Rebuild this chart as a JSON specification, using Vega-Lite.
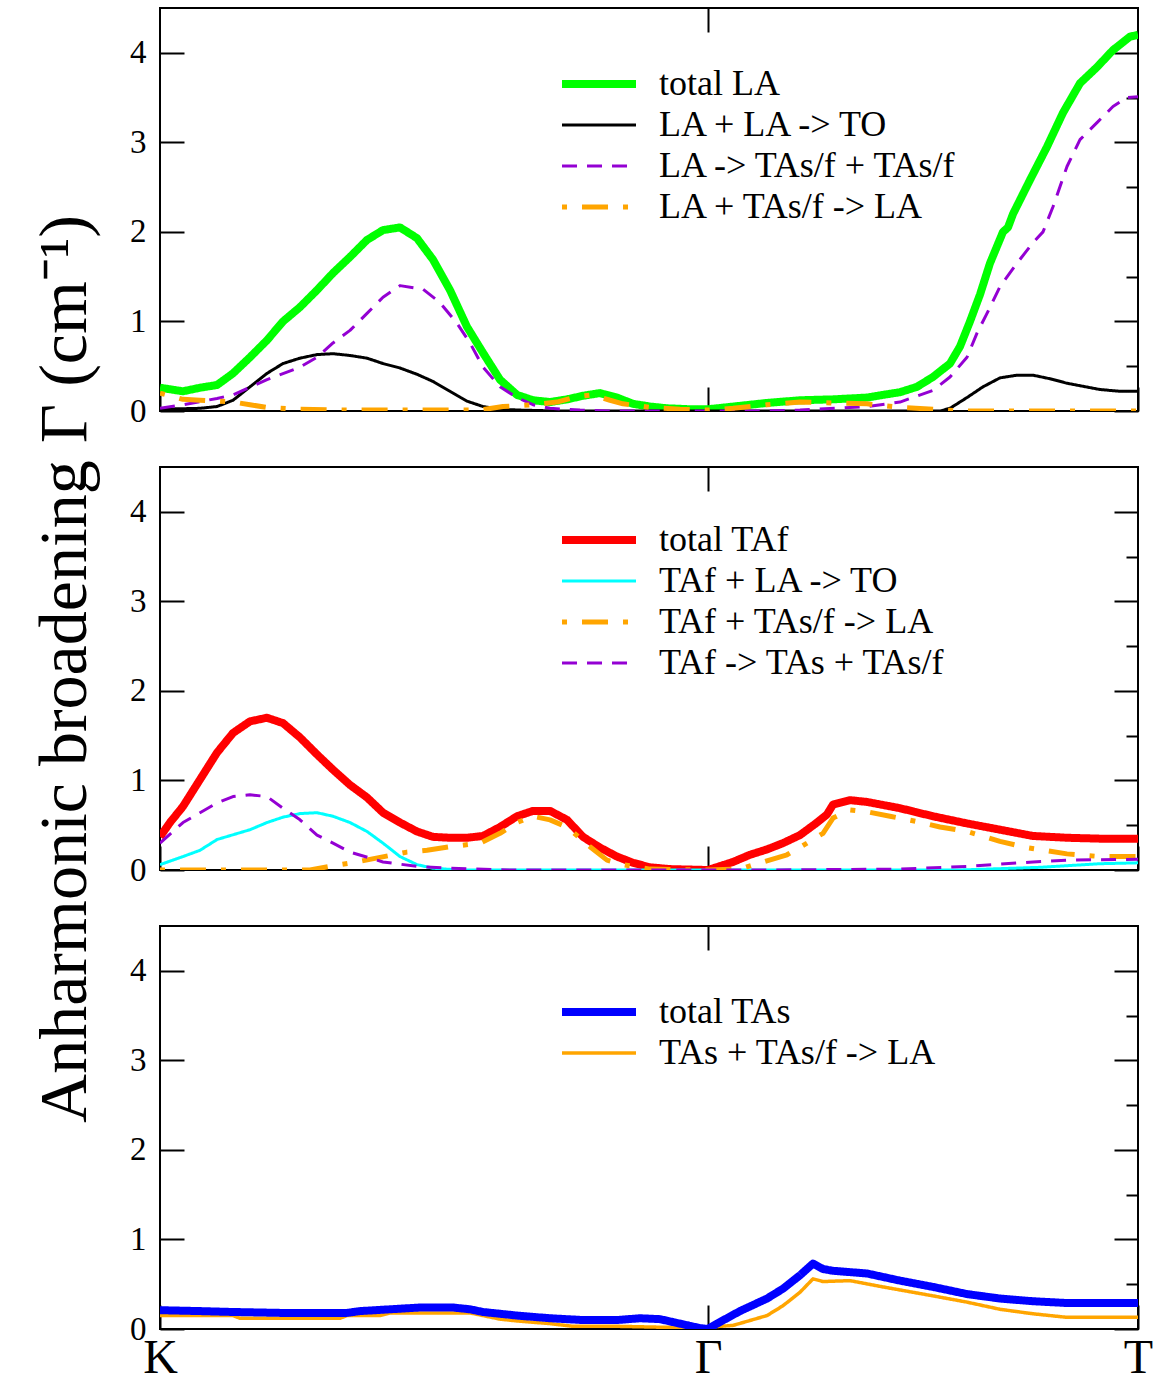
{
  "$schema": "https://vega.github.io/schema/vega-lite/v6.json",
  "background": "white",
  "padding": {"left": 30, "top": 6, "right": 0, "bottom": 0},
  "spacing": 56,
  "bounds": "flush",
  "config": {
    "font": "Liberation Serif",
    "view": {"stroke": "#000000", "strokeWidth": 2},
    "axis": {"grid": false, "domain": false, "tickColor": "#000000", "tickWidth": 2, "labelColor": "#000000", "labelFont": "Liberation Serif", "titleFont": "Liberation Serif", "titleColor": "#000000", "titleFontWeight": "normal"},
    "legend": {"orient": "none", "symbolType": "M-3,0H3", "symbolSize": 608, "labelFont": "Liberation Serif", "labelFontSize": 36, "labelColor": "#000000", "labelLimit": 800, "padding": 0, "rowPadding": 5, "labelOffset": 42}
  },
  "resolve": {"scale": {"color": "independent", "strokeDash": "independent", "strokeWidth": "independent"}, "legend": {"color": "independent", "strokeDash": "independent", "strokeWidth": "independent"}},
  "datasets": {
    "la": [
      {"s":"total LA","x":0,"y":0.26},{"s":"total LA","x":23,"y":0.22},{"s":"total LA","x":40,"y":0.26},{"s":"total LA","x":57,"y":0.29},{"s":"total LA","x":73,"y":0.42},{"s":"total LA","x":90,"y":0.6},{"s":"total LA","x":107,"y":0.79},{"s":"total LA","x":123,"y":1.0},{"s":"total LA","x":140,"y":1.16},{"s":"total LA","x":157,"y":1.35},{"s":"total LA","x":173,"y":1.54},{"s":"total LA","x":190,"y":1.72},{"s":"total LA","x":207,"y":1.91},{"s":"total LA","x":223,"y":2.02},{"s":"total LA","x":240,"y":2.05},{"s":"total LA","x":257,"y":1.93},{"s":"total LA","x":273,"y":1.69},{"s":"total LA","x":290,"y":1.35},{"s":"total LA","x":307,"y":0.94},{"s":"total LA","x":323,"y":0.65},{"s":"total LA","x":340,"y":0.35},{"s":"total LA","x":357,"y":0.18},{"s":"total LA","x":373,"y":0.12},{"s":"total LA","x":390,"y":0.1},{"s":"total LA","x":407,"y":0.13},{"s":"total LA","x":423,"y":0.17},{"s":"total LA","x":440,"y":0.2},{"s":"total LA","x":457,"y":0.15},{"s":"total LA","x":473,"y":0.08},{"s":"total LA","x":490,"y":0.05},{"s":"total LA","x":507,"y":0.03},{"s":"total LA","x":530,"y":0.02},{"s":"total LA","x":548,"y":0.02},{"s":"total LA","x":557,"y":0.03},{"s":"total LA","x":607,"y":0.09},{"s":"total LA","x":640,"y":0.12},{"s":"total LA","x":673,"y":0.13},{"s":"total LA","x":707,"y":0.15},{"s":"total LA","x":723,"y":0.18},{"s":"total LA","x":740,"y":0.21},{"s":"total LA","x":757,"y":0.27},{"s":"total LA","x":773,"y":0.38},{"s":"total LA","x":790,"y":0.53},{"s":"total LA","x":800,"y":0.72},{"s":"total LA","x":810,"y":1.0},{"s":"total LA","x":820,"y":1.3},{"s":"total LA","x":830,"y":1.65},{"s":"total LA","x":843,"y":2.0},{"s":"total LA","x":848,"y":2.05},{"s":"total LA","x":853,"y":2.2},{"s":"total LA","x":870,"y":2.58},{"s":"total LA","x":887,"y":2.95},{"s":"total LA","x":903,"y":3.33},{"s":"total LA","x":920,"y":3.66},{"s":"total LA","x":937,"y":3.84},{"s":"total LA","x":953,"y":4.03},{"s":"total LA","x":970,"y":4.18},{"s":"total LA","x":978,"y":4.2},
      {"s":"LA + LA -> TO","x":0,"y":0.02},{"s":"LA + LA -> TO","x":40,"y":0.03},{"s":"LA + LA -> TO","x":57,"y":0.05},{"s":"LA + LA -> TO","x":73,"y":0.12},{"s":"LA + LA -> TO","x":90,"y":0.27},{"s":"LA + LA -> TO","x":107,"y":0.42},{"s":"LA + LA -> TO","x":123,"y":0.53},{"s":"LA + LA -> TO","x":140,"y":0.59},{"s":"LA + LA -> TO","x":157,"y":0.63},{"s":"LA + LA -> TO","x":173,"y":0.64},{"s":"LA + LA -> TO","x":190,"y":0.62},{"s":"LA + LA -> TO","x":207,"y":0.59},{"s":"LA + LA -> TO","x":223,"y":0.53},{"s":"LA + LA -> TO","x":240,"y":0.48},{"s":"LA + LA -> TO","x":257,"y":0.41},{"s":"LA + LA -> TO","x":273,"y":0.33},{"s":"LA + LA -> TO","x":290,"y":0.22},{"s":"LA + LA -> TO","x":307,"y":0.11},{"s":"LA + LA -> TO","x":323,"y":0.05},{"s":"LA + LA -> TO","x":340,"y":0.02},{"s":"LA + LA -> TO","x":360,"y":0.01},{"s":"LA + LA -> TO","x":400,"y":0.0},{"s":"LA + LA -> TO","x":548,"y":0.0},{"s":"LA + LA -> TO","x":780,"y":0.0},{"s":"LA + LA -> TO","x":790,"y":0.03},{"s":"LA + LA -> TO","x":807,"y":0.15},{"s":"LA + LA -> TO","x":823,"y":0.27},{"s":"LA + LA -> TO","x":840,"y":0.37},{"s":"LA + LA -> TO","x":857,"y":0.4},{"s":"LA + LA -> TO","x":873,"y":0.4},{"s":"LA + LA -> TO","x":890,"y":0.36},{"s":"LA + LA -> TO","x":907,"y":0.31},{"s":"LA + LA -> TO","x":940,"y":0.24},{"s":"LA + LA -> TO","x":960,"y":0.22},{"s":"LA + LA -> TO","x":978,"y":0.22},
      {"s":"LA -> TAs/f + TAs/f","x":0,"y":0.03},{"s":"LA -> TAs/f + TAs/f","x":23,"y":0.07},{"s":"LA -> TAs/f + TAs/f","x":57,"y":0.14},{"s":"LA -> TAs/f + TAs/f","x":73,"y":0.18},{"s":"LA -> TAs/f + TAs/f","x":107,"y":0.35},{"s":"LA -> TAs/f + TAs/f","x":140,"y":0.49},{"s":"LA -> TAs/f + TAs/f","x":157,"y":0.6},{"s":"LA -> TAs/f + TAs/f","x":173,"y":0.76},{"s":"LA -> TAs/f + TAs/f","x":190,"y":0.9},{"s":"LA -> TAs/f + TAs/f","x":207,"y":1.09},{"s":"LA -> TAs/f + TAs/f","x":223,"y":1.27},{"s":"LA -> TAs/f + TAs/f","x":240,"y":1.4},{"s":"LA -> TAs/f + TAs/f","x":263,"y":1.36},{"s":"LA -> TAs/f + TAs/f","x":280,"y":1.21},{"s":"LA -> TAs/f + TAs/f","x":297,"y":0.98},{"s":"LA -> TAs/f + TAs/f","x":310,"y":0.76},{"s":"LA -> TAs/f + TAs/f","x":323,"y":0.49},{"s":"LA -> TAs/f + TAs/f","x":340,"y":0.27},{"s":"LA -> TAs/f + TAs/f","x":357,"y":0.15},{"s":"LA -> TAs/f + TAs/f","x":373,"y":0.07},{"s":"LA -> TAs/f + TAs/f","x":390,"y":0.03},{"s":"LA -> TAs/f + TAs/f","x":420,"y":0.01},{"s":"LA -> TAs/f + TAs/f","x":450,"y":0.0},{"s":"LA -> TAs/f + TAs/f","x":600,"y":0.0},{"s":"LA -> TAs/f + TAs/f","x":640,"y":0.01},{"s":"LA -> TAs/f + TAs/f","x":707,"y":0.05},{"s":"LA -> TAs/f + TAs/f","x":740,"y":0.1},{"s":"LA -> TAs/f + TAs/f","x":773,"y":0.23},{"s":"LA -> TAs/f + TAs/f","x":790,"y":0.38},{"s":"LA -> TAs/f + TAs/f","x":807,"y":0.6},{"s":"LA -> TAs/f + TAs/f","x":817,"y":0.87},{"s":"LA -> TAs/f + TAs/f","x":827,"y":1.09},{"s":"LA -> TAs/f + TAs/f","x":840,"y":1.39},{"s":"LA -> TAs/f + TAs/f","x":857,"y":1.65},{"s":"LA -> TAs/f + TAs/f","x":873,"y":1.88},{"s":"LA -> TAs/f + TAs/f","x":883,"y":2.0},{"s":"LA -> TAs/f + TAs/f","x":893,"y":2.28},{"s":"LA -> TAs/f + TAs/f","x":907,"y":2.73},{"s":"LA -> TAs/f + TAs/f","x":920,"y":3.03},{"s":"LA -> TAs/f + TAs/f","x":937,"y":3.22},{"s":"LA -> TAs/f + TAs/f","x":953,"y":3.4},{"s":"LA -> TAs/f + TAs/f","x":967,"y":3.5},{"s":"LA -> TAs/f + TAs/f","x":978,"y":3.51},
      {"s":"LA + TAs/f -> LA","x":0,"y":0.2},{"s":"LA + TAs/f -> LA","x":23,"y":0.13},{"s":"LA + TAs/f -> LA","x":40,"y":0.12},{"s":"LA + TAs/f -> LA","x":73,"y":0.1},{"s":"LA + TAs/f -> LA","x":90,"y":0.07},{"s":"LA + TAs/f -> LA","x":107,"y":0.04},{"s":"LA + TAs/f -> LA","x":140,"y":0.02},{"s":"LA + TAs/f -> LA","x":190,"y":0.01},{"s":"LA + TAs/f -> LA","x":320,"y":0.01},{"s":"LA + TAs/f -> LA","x":343,"y":0.05},{"s":"LA + TAs/f -> LA","x":373,"y":0.07},{"s":"LA + TAs/f -> LA","x":397,"y":0.1},{"s":"LA + TAs/f -> LA","x":417,"y":0.16},{"s":"LA + TAs/f -> LA","x":433,"y":0.18},{"s":"LA + TAs/f -> LA","x":450,"y":0.12},{"s":"LA + TAs/f -> LA","x":463,"y":0.08},{"s":"LA + TAs/f -> LA","x":490,"y":0.04},{"s":"LA + TAs/f -> LA","x":520,"y":0.02},{"s":"LA + TAs/f -> LA","x":548,"y":0.01},{"s":"LA + TAs/f -> LA","x":573,"y":0.03},{"s":"LA + TAs/f -> LA","x":607,"y":0.07},{"s":"LA + TAs/f -> LA","x":640,"y":0.1},{"s":"LA + TAs/f -> LA","x":673,"y":0.09},{"s":"LA + TAs/f -> LA","x":707,"y":0.08},{"s":"LA + TAs/f -> LA","x":740,"y":0.04},{"s":"LA + TAs/f -> LA","x":773,"y":0.02},{"s":"LA + TAs/f -> LA","x":800,"y":0.0},{"s":"LA + TAs/f -> LA","x":978,"y":0.0}
    ],
    "taf": [
      {"s":"total TAf","x":0,"y":0.37},{"s":"total TAf","x":10,"y":0.53},{"s":"total TAf","x":23,"y":0.71},{"s":"total TAf","x":40,"y":1.01},{"s":"total TAf","x":57,"y":1.31},{"s":"total TAf","x":73,"y":1.53},{"s":"total TAf","x":90,"y":1.66},{"s":"total TAf","x":107,"y":1.7},{"s":"total TAf","x":123,"y":1.64},{"s":"total TAf","x":140,"y":1.48},{"s":"total TAf","x":157,"y":1.29},{"s":"total TAf","x":173,"y":1.12},{"s":"total TAf","x":190,"y":0.95},{"s":"total TAf","x":207,"y":0.81},{"s":"total TAf","x":223,"y":0.64},{"s":"total TAf","x":240,"y":0.53},{"s":"total TAf","x":257,"y":0.43},{"s":"total TAf","x":273,"y":0.37},{"s":"total TAf","x":290,"y":0.36},{"s":"total TAf","x":307,"y":0.36},{"s":"total TAf","x":323,"y":0.38},{"s":"total TAf","x":340,"y":0.48},{"s":"total TAf","x":357,"y":0.6},{"s":"total TAf","x":373,"y":0.66},{"s":"total TAf","x":390,"y":0.66},{"s":"total TAf","x":407,"y":0.56},{"s":"total TAf","x":423,"y":0.37},{"s":"total TAf","x":440,"y":0.25},{"s":"total TAf","x":457,"y":0.15},{"s":"total TAf","x":473,"y":0.08},{"s":"total TAf","x":490,"y":0.03},{"s":"total TAf","x":510,"y":0.01},{"s":"total TAf","x":548,"y":0.0},{"s":"total TAf","x":573,"y":0.09},{"s":"total TAf","x":590,"y":0.17},{"s":"total TAf","x":607,"y":0.23},{"s":"total TAf","x":623,"y":0.3},{"s":"total TAf","x":640,"y":0.39},{"s":"total TAf","x":657,"y":0.53},{"s":"total TAf","x":667,"y":0.62},{"s":"total TAf","x":673,"y":0.73},{"s":"total TAf","x":690,"y":0.78},{"s":"total TAf","x":707,"y":0.76},{"s":"total TAf","x":740,"y":0.69},{"s":"total TAf","x":773,"y":0.6},{"s":"total TAf","x":807,"y":0.52},{"s":"total TAf","x":840,"y":0.45},{"s":"total TAf","x":873,"y":0.38},{"s":"total TAf","x":907,"y":0.36},{"s":"total TAf","x":940,"y":0.35},{"s":"total TAf","x":978,"y":0.35},
      {"s":"TAf + LA -> TO","x":0,"y":0.06},{"s":"TAf + LA -> TO","x":23,"y":0.15},{"s":"TAf + LA -> TO","x":40,"y":0.22},{"s":"TAf + LA -> TO","x":57,"y":0.34},{"s":"TAf + LA -> TO","x":90,"y":0.45},{"s":"TAf + LA -> TO","x":107,"y":0.53},{"s":"TAf + LA -> TO","x":123,"y":0.59},{"s":"TAf + LA -> TO","x":140,"y":0.63},{"s":"TAf + LA -> TO","x":157,"y":0.64},{"s":"TAf + LA -> TO","x":173,"y":0.6},{"s":"TAf + LA -> TO","x":190,"y":0.53},{"s":"TAf + LA -> TO","x":207,"y":0.43},{"s":"TAf + LA -> TO","x":223,"y":0.3},{"s":"TAf + LA -> TO","x":240,"y":0.15},{"s":"TAf + LA -> TO","x":257,"y":0.06},{"s":"TAf + LA -> TO","x":273,"y":0.02},{"s":"TAf + LA -> TO","x":300,"y":0.0},{"s":"TAf + LA -> TO","x":548,"y":0.0},{"s":"TAf + LA -> TO","x":800,"y":0.0},{"s":"TAf + LA -> TO","x":880,"y":0.03},{"s":"TAf + LA -> TO","x":940,"y":0.07},{"s":"TAf + LA -> TO","x":978,"y":0.08},
      {"s":"TAf + TAs/f -> LA","x":0,"y":0.0},{"s":"TAf + TAs/f -> LA","x":150,"y":0.0},{"s":"TAf + TAs/f -> LA","x":180,"y":0.06},{"s":"TAf + TAs/f -> LA","x":197,"y":0.09},{"s":"TAf + TAs/f -> LA","x":233,"y":0.17},{"s":"TAf + TAs/f -> LA","x":247,"y":0.2},{"s":"TAf + TAs/f -> LA","x":267,"y":0.22},{"s":"TAf + TAs/f -> LA","x":290,"y":0.26},{"s":"TAf + TAs/f -> LA","x":320,"y":0.3},{"s":"TAf + TAs/f -> LA","x":340,"y":0.41},{"s":"TAf + TAs/f -> LA","x":357,"y":0.53},{"s":"TAf + TAs/f -> LA","x":373,"y":0.6},{"s":"TAf + TAs/f -> LA","x":390,"y":0.56},{"s":"TAf + TAs/f -> LA","x":407,"y":0.48},{"s":"TAf + TAs/f -> LA","x":430,"y":0.26},{"s":"TAf + TAs/f -> LA","x":447,"y":0.11},{"s":"TAf + TAs/f -> LA","x":463,"y":0.06},{"s":"TAf + TAs/f -> LA","x":490,"y":0.01},{"s":"TAf + TAs/f -> LA","x":548,"y":0.0},{"s":"TAf + TAs/f -> LA","x":580,"y":0.01},{"s":"TAf + TAs/f -> LA","x":600,"y":0.08},{"s":"TAf + TAs/f -> LA","x":627,"y":0.17},{"s":"TAf + TAs/f -> LA","x":647,"y":0.3},{"s":"TAf + TAs/f -> LA","x":663,"y":0.41},{"s":"TAf + TAs/f -> LA","x":673,"y":0.58},{"s":"TAf + TAs/f -> LA","x":690,"y":0.67},{"s":"TAf + TAs/f -> LA","x":707,"y":0.65},{"s":"TAf + TAs/f -> LA","x":730,"y":0.6},{"s":"TAf + TAs/f -> LA","x":757,"y":0.54},{"s":"TAf + TAs/f -> LA","x":780,"y":0.48},{"s":"TAf + TAs/f -> LA","x":807,"y":0.43},{"s":"TAf + TAs/f -> LA","x":840,"y":0.32},{"s":"TAf + TAs/f -> LA","x":867,"y":0.25},{"s":"TAf + TAs/f -> LA","x":907,"y":0.18},{"s":"TAf + TAs/f -> LA","x":940,"y":0.15},{"s":"TAf + TAs/f -> LA","x":978,"y":0.15},
      {"s":"TAf -> TAs + TAs/f","x":0,"y":0.3},{"s":"TAf -> TAs + TAs/f","x":23,"y":0.53},{"s":"TAf -> TAs + TAs/f","x":40,"y":0.64},{"s":"TAf -> TAs + TAs/f","x":57,"y":0.75},{"s":"TAf -> TAs + TAs/f","x":73,"y":0.82},{"s":"TAf -> TAs + TAs/f","x":90,"y":0.84},{"s":"TAf -> TAs + TAs/f","x":107,"y":0.82},{"s":"TAf -> TAs + TAs/f","x":123,"y":0.69},{"s":"TAf -> TAs + TAs/f","x":140,"y":0.56},{"s":"TAf -> TAs + TAs/f","x":157,"y":0.39},{"s":"TAf -> TAs + TAs/f","x":173,"y":0.3},{"s":"TAf -> TAs + TAs/f","x":190,"y":0.2},{"s":"TAf -> TAs + TAs/f","x":223,"y":0.09},{"s":"TAf -> TAs + TAs/f","x":257,"y":0.04},{"s":"TAf -> TAs + TAs/f","x":290,"y":0.02},{"s":"TAf -> TAs + TAs/f","x":350,"y":0.0},{"s":"TAf -> TAs + TAs/f","x":600,"y":0.0},{"s":"TAf -> TAs + TAs/f","x":740,"y":0.01},{"s":"TAf -> TAs + TAs/f","x":807,"y":0.04},{"s":"TAf -> TAs + TAs/f","x":873,"y":0.09},{"s":"TAf -> TAs + TAs/f","x":907,"y":0.11},{"s":"TAf -> TAs + TAs/f","x":978,"y":0.12}
    ],
    "tas": [
      {"s":"total TAs","x":0,"y":0.21},{"s":"total TAs","x":40,"y":0.2},{"s":"total TAs","x":73,"y":0.19},{"s":"total TAs","x":120,"y":0.18},{"s":"total TAs","x":187,"y":0.18},{"s":"total TAs","x":200,"y":0.2},{"s":"total TAs","x":230,"y":0.22},{"s":"total TAs","x":260,"y":0.24},{"s":"total TAs","x":293,"y":0.24},{"s":"total TAs","x":310,"y":0.22},{"s":"total TAs","x":323,"y":0.19},{"s":"total TAs","x":340,"y":0.17},{"s":"total TAs","x":357,"y":0.15},{"s":"total TAs","x":390,"y":0.12},{"s":"total TAs","x":423,"y":0.1},{"s":"total TAs","x":457,"y":0.1},{"s":"total TAs","x":480,"y":0.12},{"s":"total TAs","x":500,"y":0.11},{"s":"total TAs","x":520,"y":0.06},{"s":"total TAs","x":540,"y":0.01},{"s":"total TAs","x":548,"y":0.0},{"s":"total TAs","x":557,"y":0.06},{"s":"total TAs","x":580,"y":0.2},{"s":"total TAs","x":607,"y":0.34},{"s":"total TAs","x":623,"y":0.45},{"s":"total TAs","x":640,"y":0.6},{"s":"total TAs","x":653,"y":0.73},{"s":"total TAs","x":663,"y":0.67},{"s":"total TAs","x":673,"y":0.65},{"s":"total TAs","x":707,"y":0.62},{"s":"total TAs","x":740,"y":0.54},{"s":"total TAs","x":773,"y":0.47},{"s":"total TAs","x":807,"y":0.39},{"s":"total TAs","x":840,"y":0.34},{"s":"total TAs","x":873,"y":0.31},{"s":"total TAs","x":907,"y":0.29},{"s":"total TAs","x":978,"y":0.29},
      {"s":"TAs + TAs/f -> LA","x":0,"y":0.15},{"s":"TAs + TAs/f -> LA","x":73,"y":0.15},{"s":"TAs + TAs/f -> LA","x":80,"y":0.12},{"s":"TAs + TAs/f -> LA","x":180,"y":0.12},{"s":"TAs + TAs/f -> LA","x":187,"y":0.15},{"s":"TAs + TAs/f -> LA","x":220,"y":0.15},{"s":"TAs + TAs/f -> LA","x":230,"y":0.18},{"s":"TAs + TAs/f -> LA","x":310,"y":0.18},{"s":"TAs + TAs/f -> LA","x":323,"y":0.15},{"s":"TAs + TAs/f -> LA","x":340,"y":0.11},{"s":"TAs + TAs/f -> LA","x":357,"y":0.09},{"s":"TAs + TAs/f -> LA","x":390,"y":0.06},{"s":"TAs + TAs/f -> LA","x":413,"y":0.03},{"s":"TAs + TAs/f -> LA","x":457,"y":0.03},{"s":"TAs + TAs/f -> LA","x":500,"y":0.02},{"s":"TAs + TAs/f -> LA","x":548,"y":0.02},{"s":"TAs + TAs/f -> LA","x":573,"y":0.04},{"s":"TAs + TAs/f -> LA","x":607,"y":0.15},{"s":"TAs + TAs/f -> LA","x":623,"y":0.26},{"s":"TAs + TAs/f -> LA","x":640,"y":0.41},{"s":"TAs + TAs/f -> LA","x":653,"y":0.56},{"s":"TAs + TAs/f -> LA","x":663,"y":0.53},{"s":"TAs + TAs/f -> LA","x":690,"y":0.54},{"s":"TAs + TAs/f -> LA","x":723,"y":0.47},{"s":"TAs + TAs/f -> LA","x":773,"y":0.37},{"s":"TAs + TAs/f -> LA","x":807,"y":0.3},{"s":"TAs + TAs/f -> LA","x":840,"y":0.22},{"s":"TAs + TAs/f -> LA","x":873,"y":0.17},{"s":"TAs + TAs/f -> LA","x":907,"y":0.13},{"s":"TAs + TAs/f -> LA","x":978,"y":0.13}
    ]
  },
  "vconcat": [
    {
      "width": 978, "height": 403,
      "data": {"name": "la"},
      "resolve": {"axis": {"x": "independent", "y": "independent"}},
      "encoding": {
        "color": {"field": "s", "type": "nominal", "scale": {"domain": ["total LA", "LA + LA -> TO", "LA -> TAs/f + TAs/f", "LA + TAs/f -> LA"], "range": ["#00ff00", "#000000", "#9400d3", "#ffa500"]}, "legend": {"title": null, "legendX": 421, "legendY": 58}},
        "strokeDash": {"field": "s", "type": "nominal", "scale": {"domain": ["total LA", "LA + LA -> TO", "LA -> TAs/f + TAs/f", "LA + TAs/f -> LA"], "range": [[1, 0], [1, 0], [15, 10], [5, 15, 26, 15]]}, "legend": {"title": null, "legendX": 421, "legendY": 58}},
        "strokeWidth": {"field": "s", "type": "ordinal", "scale": {"type": "ordinal", "domain": ["total LA", "LA + LA -> TO", "LA -> TAs/f + TAs/f", "LA + TAs/f -> LA"], "range": [8, 3, 3, 5]}, "legend": {"title": null, "legendX": 421, "legendY": 58}}
      },
      "layer": [
        {
          "transform": [{"filter": "datum.s === 'total LA'"}],
          "mark": {"type": "line", "strokeJoin": "round", "strokeCap": "butt", "clip": true},
          "encoding": {
            "x": {"field": "x", "type": "quantitative", "scale": {"domain": [0, 978], "nice": false, "zero": false}, "axis": {"orient": "bottom", "values": [0, 548, 978], "tickSize": -24, "labels": false, "title": null}},
            "y": {"field": "y", "type": "quantitative", "scale": {"domain": [0, 4.5], "nice": false}, "axis": {"orient": "left", "values": [0, 0.5, 1, 1.5, 2, 2.5, 3, 3.5, 4], "format": "d", "labelExpr": "datum.value % 1 === 0 ? datum.label : ''", "tickSize": {"expr": "datum.value % 1 === 0 ? -24 : -12"}, "labelPadding": 38, "labelFont": "Liberation Serif", "labelFontSize": 33, "title": null}}
          }
        },
        {
          "transform": [{"filter": "datum.s !== 'total LA'"}],
          "mark": {"type": "line", "strokeJoin": "round", "strokeCap": "butt", "clip": true},
          "encoding": {
            "x": {"field": "x", "type": "quantitative", "scale": {"domain": [0, 978], "nice": false, "zero": false}, "axis": {"orient": "top", "values": [548], "tickSize": -24, "labels": false, "title": null}},
            "y": {"field": "y", "type": "quantitative", "scale": {"domain": [0, 4.5], "nice": false}, "axis": {"orient": "right", "values": [0, 0.5, 1, 1.5, 2, 2.5, 3, 3.5, 4], "labels": false, "tickSize": {"expr": "datum.value % 1 === 0 ? -24 : -12"}, "title": null}}
          }
        }
      ]
    },
    {
      "width": 978, "height": 403,
      "data": {"name": "taf"},
      "resolve": {"axis": {"x": "independent", "y": "independent"}},
      "encoding": {
        "color": {"field": "s", "type": "nominal", "scale": {"domain": ["total TAf", "TAf + LA -> TO", "TAf + TAs/f -> LA", "TAf -> TAs + TAs/f"], "range": ["#ff0000", "#00ffff", "#ffa500", "#9400d3"]}, "legend": {"title": null, "legendX": 421, "legendY": 55}},
        "strokeDash": {"field": "s", "type": "nominal", "scale": {"domain": ["total TAf", "TAf + LA -> TO", "TAf + TAs/f -> LA", "TAf -> TAs + TAs/f"], "range": [[1, 0], [1, 0], [5, 15, 26, 15], [15, 10]]}, "legend": {"title": null, "legendX": 421, "legendY": 55}},
        "strokeWidth": {"field": "s", "type": "ordinal", "scale": {"type": "ordinal", "domain": ["total TAf", "TAf + LA -> TO", "TAf + TAs/f -> LA", "TAf -> TAs + TAs/f"], "range": [8, 3, 5, 3]}, "legend": {"title": null, "legendX": 421, "legendY": 55}}
      },
      "layer": [
        {
          "transform": [{"filter": "datum.s === 'total TAf'"}],
          "mark": {"type": "line", "strokeJoin": "round", "strokeCap": "butt", "clip": true},
          "encoding": {
            "x": {"field": "x", "type": "quantitative", "scale": {"domain": [0, 978], "nice": false, "zero": false}, "axis": {"orient": "bottom", "values": [0, 548, 978], "tickSize": -24, "labels": false, "title": null}},
            "y": {"field": "y", "type": "quantitative", "scale": {"domain": [0, 4.5], "nice": false}, "axis": {"orient": "left", "values": [0, 0.5, 1, 1.5, 2, 2.5, 3, 3.5, 4], "format": "d", "labelExpr": "datum.value % 1 === 0 ? datum.label : ''", "tickSize": {"expr": "datum.value % 1 === 0 ? -24 : -12"}, "labelPadding": 38, "labelFont": "Liberation Serif", "labelFontSize": 33, "title": "Anharmonic broadening Γ (cm⁻¹)", "titleFont": "Liberation Serif", "titleFontSize": 68, "titlePadding": 30}}
          }
        },
        {
          "transform": [{"filter": "datum.s !== 'total TAf'"}],
          "mark": {"type": "line", "strokeJoin": "round", "strokeCap": "butt", "clip": true},
          "encoding": {
            "x": {"field": "x", "type": "quantitative", "scale": {"domain": [0, 978], "nice": false, "zero": false}, "axis": {"orient": "top", "values": [548], "tickSize": -24, "labels": false, "title": null}},
            "y": {"field": "y", "type": "quantitative", "scale": {"domain": [0, 4.5], "nice": false}, "axis": {"orient": "right", "values": [0, 0.5, 1, 1.5, 2, 2.5, 3, 3.5, 4], "labels": false, "tickSize": {"expr": "datum.value % 1 === 0 ? -24 : -12"}, "title": null}}
          }
        }
      ]
    },
    {
      "width": 978, "height": 403,
      "data": {"name": "tas"},
      "resolve": {"axis": {"x": "independent", "y": "independent"}},
      "encoding": {
        "color": {"field": "s", "type": "nominal", "scale": {"domain": ["total TAs", "TAs + TAs/f -> LA"], "range": ["#0000ff", "#ffa500"]}, "legend": {"title": null, "legendX": 421, "legendY": 68}},
        "strokeDash": {"field": "s", "type": "nominal", "scale": {"domain": ["total TAs", "TAs + TAs/f -> LA"], "range": [[1, 0], [1, 0]]}, "legend": {"title": null, "legendX": 421, "legendY": 68}},
        "strokeWidth": {"field": "s", "type": "ordinal", "scale": {"type": "ordinal", "domain": ["total TAs", "TAs + TAs/f -> LA"], "range": [8, 3.5]}, "legend": {"title": null, "legendX": 421, "legendY": 68}}
      },
      "layer": [
        {
          "transform": [{"filter": "datum.s !== 'total TAs'"}],
          "mark": {"type": "line", "strokeJoin": "round", "strokeCap": "butt", "clip": true},
          "encoding": {
            "x": {"field": "x", "type": "quantitative", "scale": {"domain": [0, 978], "nice": false, "zero": false}, "axis": {"orient": "top", "values": [548], "tickSize": -24, "labels": false, "title": null}},
            "y": {"field": "y", "type": "quantitative", "scale": {"domain": [0, 4.5], "nice": false}, "axis": {"orient": "right", "values": [0, 0.5, 1, 1.5, 2, 2.5, 3, 3.5, 4], "labels": false, "tickSize": {"expr": "datum.value % 1 === 0 ? -24 : -12"}, "title": null}}
          }
        },
        {
          "transform": [{"filter": "datum.s === 'total TAs'"}],
          "mark": {"type": "line", "strokeJoin": "round", "strokeCap": "butt", "clip": true},
          "encoding": {
            "x": {"field": "x", "type": "quantitative", "scale": {"domain": [0, 978], "nice": false, "zero": false}, "axis": {"orient": "bottom", "values": [0, 548, 978], "tickSize": -24, "labelExpr": "datum.value === 0 ? 'K' : (datum.value === 548 ? 'Γ' : 'T')", "labelFont": "Liberation Serif", "labelFontSize": 48, "labelPadding": 29, "labelFlush": false, "labelOverlap": false, "title": null}},
            "y": {"field": "y", "type": "quantitative", "scale": {"domain": [0, 4.5], "nice": false}, "axis": {"orient": "left", "values": [0, 0.5, 1, 1.5, 2, 2.5, 3, 3.5, 4], "format": "d", "labelExpr": "datum.value % 1 === 0 ? datum.label : ''", "tickSize": {"expr": "datum.value % 1 === 0 ? -24 : -12"}, "labelPadding": 38, "labelFont": "Liberation Serif", "labelFontSize": 33, "title": null}}
          }
        }
      ]
    }
  ]
}
